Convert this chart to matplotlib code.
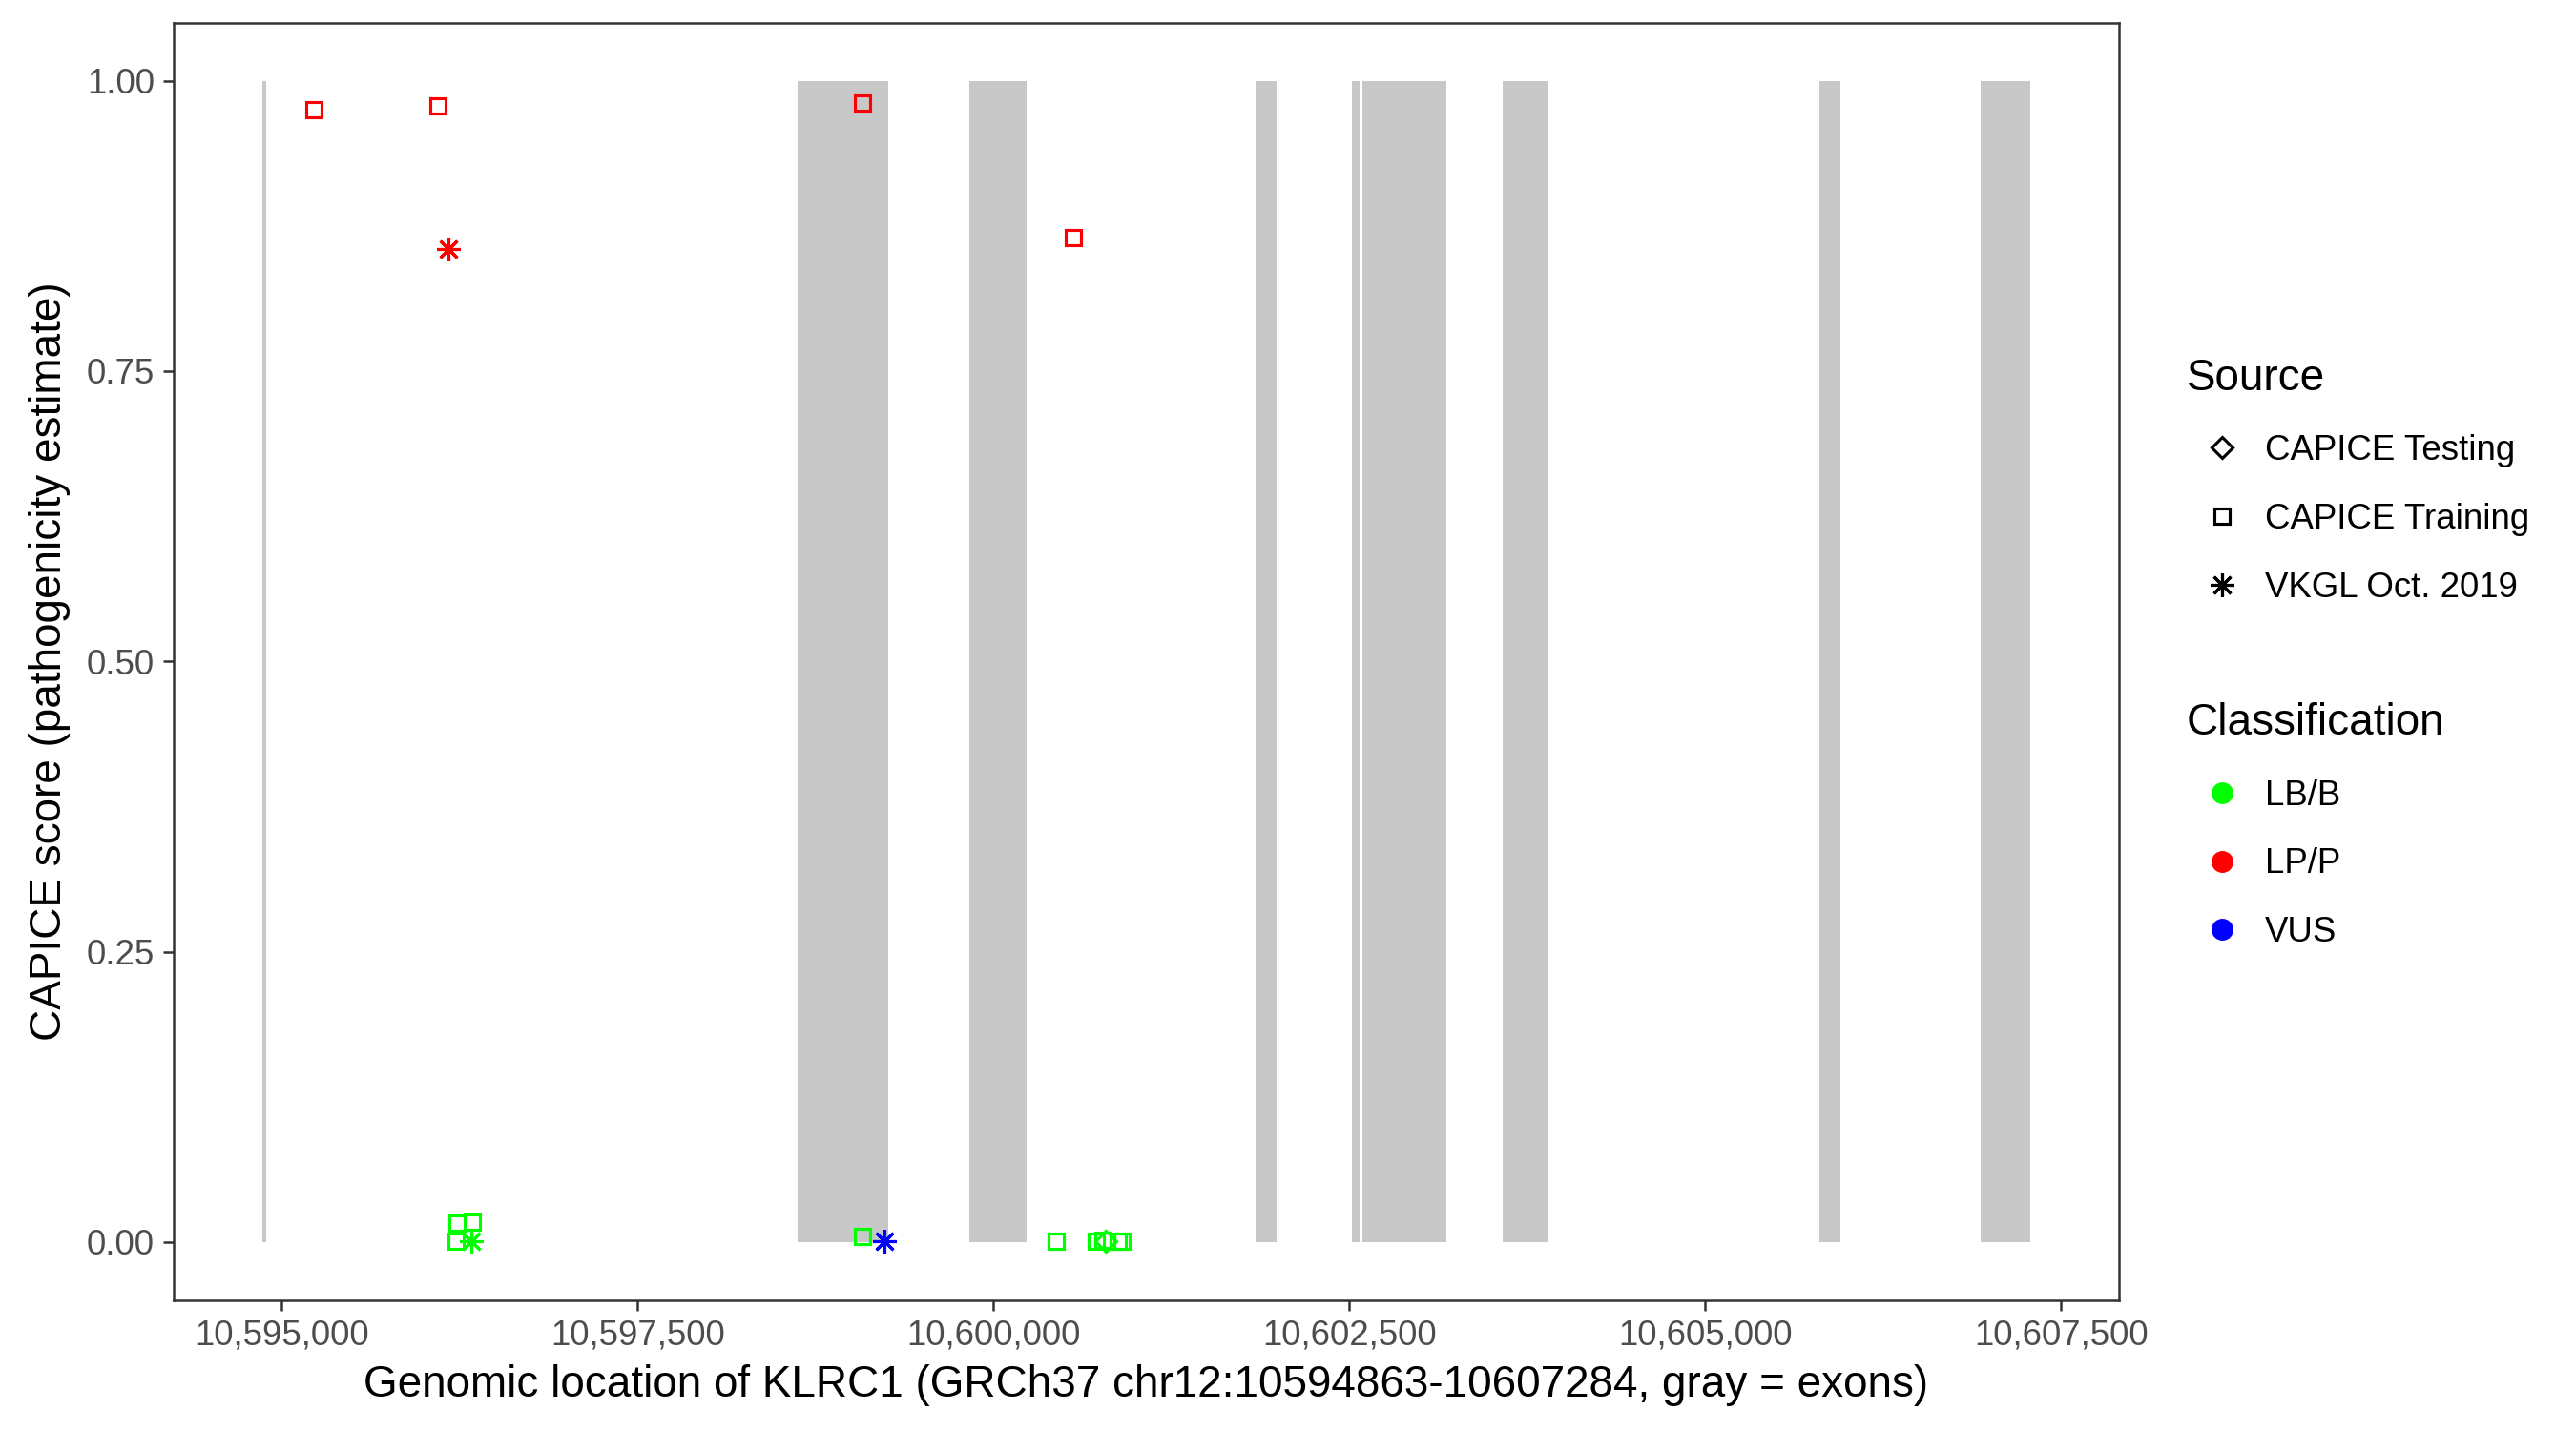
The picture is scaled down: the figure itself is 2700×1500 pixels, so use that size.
import numpy as np
import matplotlib
matplotlib.use("Agg")
import matplotlib.pyplot as plt
from matplotlib.lines import Line2D
from matplotlib.ticker import FuncFormatter

plt.rcParams['font.family'] = ['Liberation Sans', 'DejaVu Sans']

# gene / exon coordinates (GRCh37 chr12)
gene_start, gene_end = 10594863, 10607284
exon_start = [10594863, 10598627, 10599832, 10601841, 10602517, 10602590, 10603575, 10605804, 10606936]
exon_end = [10594895, 10599263, 10600234, 10601988, 10602570, 10603180, 10603896, 10605951, 10607284]

# variants
pos = [10595225, 10596098, 10599081, 10600562, 10596172,
       10596235, 10596342, 10596225, 10596332,
       10599081, 10599238, 10600443, 10600721, 10600767, 10600791, 10600878, 10600903]
score = [0.975, 0.978, 0.981, 0.865, 0.855,
         0.016, 0.017, 0.001, 0.001,
         0.005, 0.0005, 0.0005, 0.001, 0.0015, 0.001, 0.001, 0.0008]
source = ['CAPICE Training', 'CAPICE Training', 'CAPICE Training', 'CAPICE Training', 'VKGL Oct. 2019',
          'CAPICE Training', 'CAPICE Training', 'CAPICE Training', 'VKGL Oct. 2019',
          'CAPICE Training', 'VKGL Oct. 2019', 'CAPICE Training', 'CAPICE Training', 'CAPICE Training',
          'CAPICE Testing', 'CAPICE Training', 'CAPICE Training']
classification = ['LP/P', 'LP/P', 'LP/P', 'LP/P', 'LP/P',
                  'LB/B', 'LB/B', 'LB/B', 'LB/B',
                  'LB/B', 'VUS', 'LB/B', 'LB/B', 'LB/B', 'LB/B', 'LB/B', 'LB/B']

source_levels = ['CAPICE Testing', 'CAPICE Training', 'VKGL Oct. 2019']
class_levels = ['LB/B', 'LP/P', 'VUS']
markers = {'CAPICE Testing': 'D', 'CAPICE Training': 's', 'VKGL Oct. 2019': (8, 2, 0)}
msizes = {'CAPICE Testing': 3.7, 'CAPICE Training': 3.7, 'VKGL Oct. 2019': 6.0}
colors = {'LB/B': '#00FF00', 'LP/P': '#FF0000', 'VUS': '#0000FF'}

fig = plt.figure(figsize=(9, 5), dpi=300)
ax = fig.add_axes([0.0674, 0.0915, 0.8225 - 0.0674, 0.9842 - 0.0915])

# exons as gray bars from 0 to 1
widths = np.array(exon_end) - np.array(exon_start)
ax.bar(exon_start, 1.0, width=widths, bottom=0, align='edge', color='#c8c8c8', linewidth=0, zorder=1)

for p, s, src, c in zip(pos, score, source, classification):
    ax.plot([p], [s], linestyle='none', marker=markers[src], markersize=msizes[src],
            markerfacecolor='none', markeredgecolor=colors[c], markeredgewidth=0.75, zorder=3)

span = gene_end - gene_start
ax.set_xlim(gene_start - 0.05 * span, gene_end + 0.05 * span)
ax.set_ylim(-0.05, 1.05)
ax.set_xticks([10595000, 10597500, 10600000, 10602500, 10605000, 10607500])
ax.xaxis.set_major_formatter(FuncFormatter(lambda v, _: f'{int(v):,}'))
ax.set_yticks([0, 0.25, 0.5, 0.75, 1.0])
ax.yaxis.set_major_formatter(FuncFormatter(lambda v, _: f'{v:.2f}'))

for sp in ax.spines.values():
    sp.set_color('#333333')
    sp.set_linewidth(0.6)
ax.tick_params(axis='both', length=2.6, width=0.6, color='#333333', labelcolor='#4d4d4d',
               labelsize=8.8, pad=2.2)

ax.set_xlabel('Genomic location of KLRC1 (GRCh37 chr12:10594863-10607284, gray = exons)',
              fontsize=11, labelpad=3)
ax.set_ylabel('CAPICE score (pathogenicity estimate)', fontsize=11, labelpad=4)

# legends
src_handles = [Line2D([], [], linestyle='none', marker=markers[s], markersize=msizes[s],
                      markerfacecolor='none', markeredgecolor='black', markeredgewidth=0.75)
               for s in source_levels]
cls_handles = [Line2D([], [], linestyle='none', marker='o', markersize=4.5,
                      markerfacecolor=colors[c], markeredgecolor=colors[c])
               for c in class_levels]

leg_kw = dict(loc='upper left', frameon=False, fontsize=8.8, title_fontsize=11,
              alignment='left', labelspacing=1.0, handletextpad=0.2,
              handlelength=2.05, borderpad=0)
leg1 = fig.legend(src_handles, source_levels, title='Source',
                  bbox_to_anchor=(0.842, 0.7625), **leg_kw)
leg2 = fig.legend(cls_handles, class_levels, title='Classification',
                  bbox_to_anchor=(0.842, 0.5215), **leg_kw)

fig.savefig('out.png', dpi=300, facecolor='white')
